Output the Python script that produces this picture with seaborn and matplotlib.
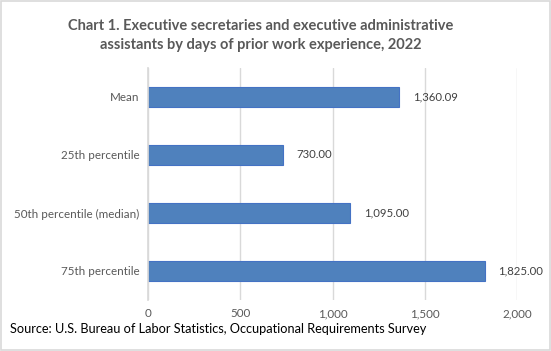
import matplotlib
matplotlib.use('Agg')
import matplotlib.pyplot as plt
import seaborn as sns
import pandas as pd
from matplotlib.ticker import FuncFormatter

# dane wykresu
categories = ['Mean', '25th percentile', '50th percentile (median)', '75th percentile']
days = [1360.09, 730.00, 1095.00, 1825.00]
x_ticks = [0, 500, 1000, 1500, 2000]

sns.set_theme(style='white')
plt.rcParams['font.family'] = ['Lato', 'DejaVu Sans']

df = pd.DataFrame({'category': categories, 'days': days})

fig = plt.figure(figsize=(5.51, 3.51), dpi=100)
ax = fig.add_axes([0.2686, 0.1453, 0.6697, 0.661])

sns.barplot(data=df, x='days', y='category', order=categories, orient='h',
            color='#4F81BD', width=0.35, edgecolor='#4472C4', linewidth=0.8,
            saturation=1, ax=ax)

ax.set_xlim(0, 2000)
ax.set_xticks(x_ticks)
ax.xaxis.set_major_formatter(FuncFormatter(lambda v, _: f'{v:,.0f}'))
ax.grid(axis='x', color='#D9D9D9', linewidth=1)
ax.set_axisbelow(True)
for side in ['top', 'right', 'bottom']:
    ax.spines[side].set_visible(False)
ax.spines['left'].set_color('#D9D9D9')
ax.tick_params(axis='both', length=0, labelsize=8.4, labelcolor='#595959', pad=6)
ax.set_xlabel('')
ax.set_ylabel('')

for i, v in enumerate(days):
    ax.text(v + 75, i, f'{v:,.2f}', va='center', ha='left', fontsize=8.2, color='#404040')

fig.text(0.474, 0.945, 'Chart 1. Executive secretaries and executive administrative\n'
         'assistants by days of prior work experience, 2022',
         ha='center', va='top', fontsize=10.5, fontweight='bold', color='#595959',
         linespacing=1.45)
fig.text(0.018, 0.063, 'Source: U.S. Bureau of Labor Statistics, Occupational Requirements Survey',
         ha='left', va='center', fontsize=9.2, color='black')

fig.patches.append(plt.Rectangle((0.002, 0.003), 0.996, 0.994, transform=fig.transFigure,
                                 fill=False, edgecolor='#D9D9D9', linewidth=1.2))

plt.savefig('out.png', dpi=100)
plt.close()
